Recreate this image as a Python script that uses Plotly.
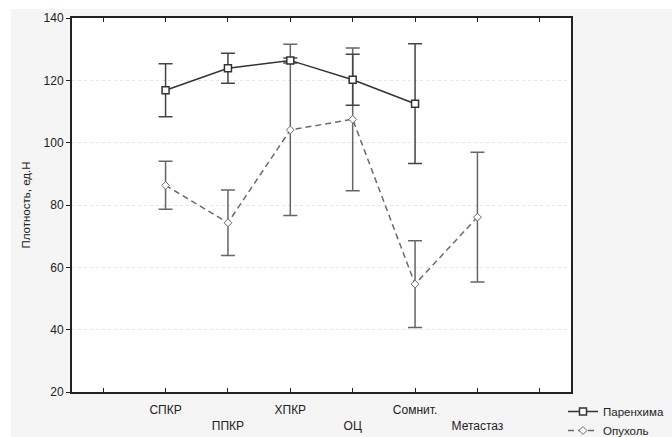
import plotly.graph_objects as go

categories = ["СПКР", "ППКР", "ХПКР", "ОЦ", "Сомнит.", "Метастаз"]
cat_pos = [1, 2, 3, 4, 5, 6]
paren_mean = [116.8, 123.9, 126.4, 120.2, 112.5, None]
paren_err = [8.5, 4.8, 0.8, 8.2, 19.2, None]
tumor_mean = [86.3, 74.3, 104.1, 107.5, 54.6, 76.1]
tumor_err = [7.7, 10.5, 27.5, 22.9, 13.9, 20.8]
y_ticks = [20, 40, 60, 80, 100, 120, 140]

# alternate label rows
tick_vals = [0] + cat_pos + [7]
tick_text = [""] + [c if i % 2 == 0 else "<br>" + c for i, c in enumerate(categories)] + [""]

L, R, T, B = 72, 101, 18, 45
W, H = 672, 437
pw, ph = W - L - R, H - T - B

def px_x(p):
    return (p - L) / pw

def px_y(p):
    return (H - B - p) / ph

fig = go.Figure()

fig.add_trace(go.Scatter(
    x=cat_pos, y=tumor_mean, name="Опухоль", mode="lines+markers",
    line=dict(color="#6a6a6a", width=1.5, dash="6px,4px"),
    marker=dict(symbol="diamond", size=6, color="white", line=dict(color="#6a6a6a", width=1)),
    error_y=dict(type="data", array=tumor_err, color="#666666", thickness=1.5, width=7),
    legendrank=2,
))
fig.add_trace(go.Scatter(
    x=cat_pos, y=paren_mean, name="Паренхима", mode="lines+markers",
    line=dict(color="#333333", width=1.5),
    marker=dict(symbol="square", size=7, color="white", line=dict(color="#333333", width=1.5)),
    error_y=dict(type="data", array=paren_err, color="#444444", thickness=1.5, width=7),
    legendrank=1,
))

fig.update_layout(
    width=W, height=H,
    margin=dict(l=L, r=R, t=T, b=B, pad=0, autoexpand=False),
    paper_bgcolor="white",
    plot_bgcolor="white",
    font=dict(family="Liberation Sans, Arial, sans-serif", size=12, color="#222222"),
    showlegend=True,
    legend=dict(x=px_x(563), y=px_y(421), xanchor="left", yanchor="middle",
                bgcolor="rgba(0,0,0,0)", font=dict(size=11.5), tracegroupgap=0),
    shapes=[
        dict(type="rect", xref="paper", yref="paper", layer="below",
             x0=px_x(11), x1=px_x(W + 5), y0=px_y(H + 5), y1=px_y(9),
             fillcolor="#f5f5f5", line=dict(width=0)),
        dict(type="rect", xref="paper", yref="paper", layer="below",
             x0=0, x1=1, y0=0, y1=1, fillcolor="white", line=dict(width=0)),
    ],
)

fig.update_xaxes(
    range=[-0.5, 7.5], tickmode="array", tickvals=tick_vals, ticktext=tick_text,
    ticks="inside", ticklen=4, tickcolor="#222222", tickwidth=1,
    showline=True, linecolor="#222222", linewidth=2, mirror="ticks",
    showgrid=False, zeroline=False, ticklabelstandoff=6,
    tickfont=dict(size=12),
)
fig.update_yaxes(
    range=[20, 140], tickmode="array", tickvals=y_ticks,
    ticks="outside", ticklen=4, tickcolor="#222222", tickwidth=1,
    showline=True, linecolor="#222222", linewidth=2, mirror=True,
    showgrid=True, gridcolor="#e6e6e6", griddash="dot", gridwidth=1,
    zeroline=False,
    title=dict(text="Плотность, ед.Н", font=dict(size=11.5), standoff=11),
    tickfont=dict(size=12),
)

fig.write_html("out.html")
